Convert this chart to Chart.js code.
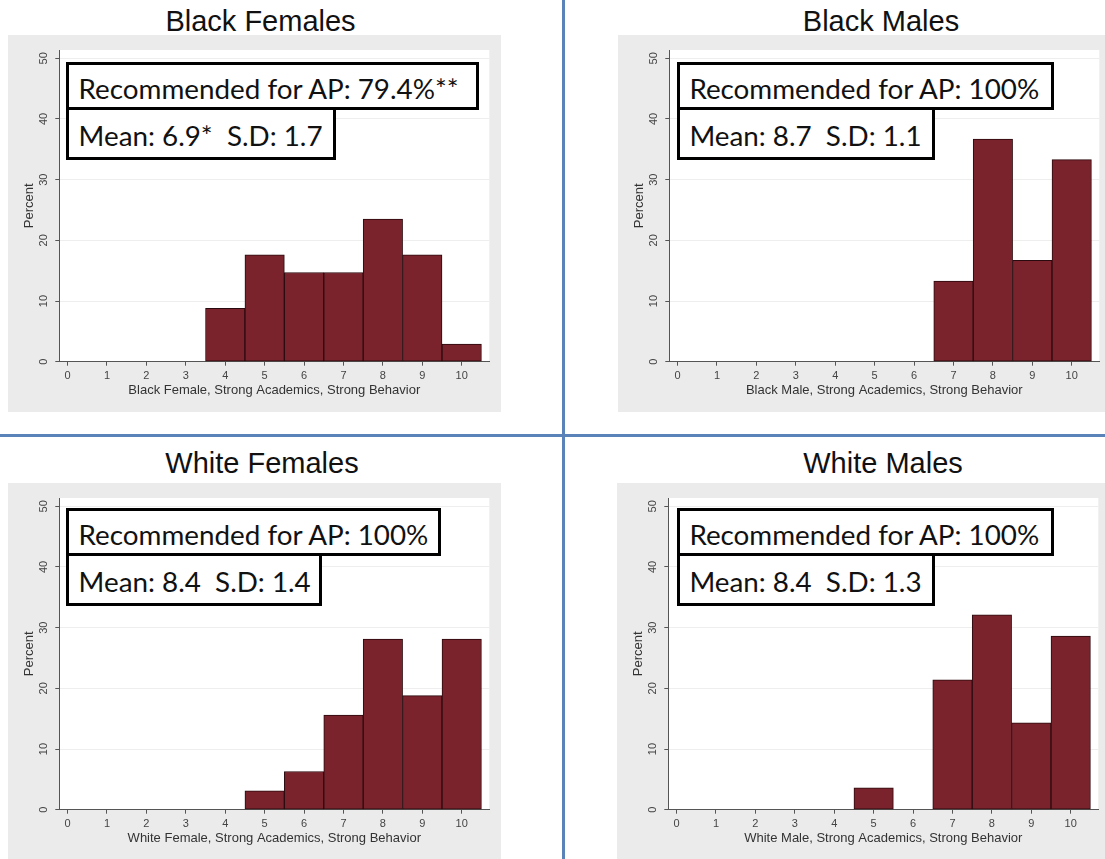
<!DOCTYPE html>
<html>
<head>
<meta charset="utf-8">
<script src="https://cdn.jsdelivr.net/npm/chart.js@4"></script>
<style>
html,body{margin:0;padding:0;background:#fff;width:1105px;height:859px;overflow:hidden;position:relative;font-family:"Liberation Sans",Arial,sans-serif}
.vline{position:absolute;left:562px;top:0;width:3px;height:859px;background:#5a83ba}
.hline{position:absolute;left:0;top:434px;width:1105px;height:3px;background:#5a83ba}
.title{position:absolute;font-size:29px;color:#111;text-align:center;width:400px;line-height:1;white-space:nowrap}
.panel{position:absolute;background:#ebebeb;height:377px;overflow:hidden}
.panel canvas{position:absolute;left:0;top:0}
.box{position:absolute;border:3px solid #000;background:#fff;box-sizing:border-box;font-family:Lato,"Open Sans",sans-serif;font-size:27.8px;line-height:33.36px;color:#111;padding-left:9.6px;white-space:nowrap;overflow:hidden}
.b1{height:48px;padding-top:6.6px}
.b2{height:53px;padding-top:9.3px}
</style>
</head>
<body>
<div class="vline"></div>
<div class="hline"></div>
<div id="root"></div>
<script>
// ---- data ----
const bins = [0, 1, 2, 3, 4, 5, 6, 7, 8, 9, 10];
const xTickValues = [0, 1, 2, 3, 4, 5, 6, 7, 8, 9, 10];
const yTickValues = [0, 10, 20, 30, 40, 50];
const panelTitles = ["Black Females", "Black Males", "White Females", "White Males"];
const xAxisTitles = [
  "Black Female, Strong Academics, Strong Behavior",
  "Black Male, Strong Academics, Strong Behavior",
  "White Female, Strong Academics, Strong Behavior",
  "White Male, Strong Academics, Strong Behavior"
];
const recommendedText = ["Recommended for AP: 79.4%**", "Recommended for AP: 100%", "Recommended for AP: 100%", "Recommended for AP: 100%"];
const statsText = ["Mean: 6.9*\u00a0 S.D: 1.7", "Mean: 8.7\u00a0 S.D: 1.1", "Mean: 8.4\u00a0 S.D: 1.4", "Mean: 8.4\u00a0 S.D: 1.3"];
const blackFemale = [0, 0, 0, 0, 8.8, 17.6, 14.7, 14.7, 23.5, 17.6, 2.9];
const blackMale   = [0, 0, 0, 0, 0, 0, 0, 13.3, 36.7, 16.7, 33.3];
const whiteFemale = [0, 0, 0, 0, 0, 3.1, 6.3, 15.6, 28.1, 18.8, 28.1];
const whiteMale   = [0, 0, 0, 0, 0, 3.6, 0, 21.4, 32.1, 14.3, 28.6];
const seriesList = [blackFemale, blackMale, whiteFemale, whiteMale];

// ---- layout (positions only) ----
const layout = [
  {title:{cx:260.5, top:7.2}, panel:{left:8, top:35, width:493}, b1:{left:66, top:62, width:412.6}, b2:{left:66, top:107, width:270}},
  {title:{cx:881, top:7.2}, panel:{left:618, top:35, width:491}, b1:{left:676.8, top:62, width:377.2}, b2:{left:676.8, top:107, width:257.8}},
  {title:{cx:262, top:449}, panel:{left:8, top:483, width:493}, b1:{left:66, top:508, width:375}, b2:{left:66, top:553, width:256}},
  {title:{cx:883, top:449}, panel:{left:617, top:483, width:491}, b1:{left:676.8, top:508, width:377.2}, b2:{left:676.8, top:553, width:257.8}}
];

const barFill = '#7a232c';
const barEdge = '#2a0a0e';
const axisColor = '#555555';
const tickFont = {family: '"Liberation Sans", Arial, sans-serif', size: 11};
const titleFont = {family: '"Liberation Sans", Arial, sans-serif', size: 13};

const plotBg = {
  id: 'plotBg',
  beforeDraw(c) {
    const a = c.chartArea, ctx = c.ctx;
    ctx.save();
    ctx.fillStyle = '#ffffff';
    ctx.fillRect(a.left, a.top, a.right - a.left, a.bottom - a.top);
    ctx.restore();
  }
};

const root = document.getElementById('root');
layout.forEach((L, i) => {
  const t = document.createElement('div');
  t.className = 'title';
  t.style.left = (L.title.cx - 200) + 'px';
  t.style.top = L.title.top + 'px';
  t.textContent = panelTitles[i];
  root.appendChild(t);

  const p = document.createElement('div');
  p.className = 'panel';
  p.style.left = L.panel.left + 'px';
  p.style.top = L.panel.top + 'px';
  p.style.width = L.panel.width + 'px';
  const cv = document.createElement('canvas');
  cv.width = L.panel.width; cv.height = 377;
  cv.style.width = L.panel.width + 'px'; cv.style.height = '377px';
  p.appendChild(cv);
  root.appendChild(p);

  const values = seriesList[i];
  new Chart(cv, {
    type: 'bar',
    data: {
      datasets: [{
        data: bins.map((b, k) => ({x: b, y: values[k]})),
        backgroundColor: barFill,
        borderColor: barEdge,
        borderWidth: 1,
        borderSkipped: false,
        categoryPercentage: 1,
        barPercentage: 1
      }]
    },
    options: {
      responsive: false,
      animation: false,
      devicePixelRatio: 1,
      layout: {padding: {top: 15, right: L.panel.width - 51.3 - 430, left: 0, bottom: 0}},
      plugins: {legend: {display: false}, tooltip: {enabled: false}},
      scales: {
        x: {
          type: 'linear',
          offset: false,
          min: -0.21,
          max: 10.7,
          afterBuildTicks: s => { s.ticks = xTickValues.map(v => ({value: v})); },
          afterFit: s => { s.height = 50.3; },
          grid: {offset: false, drawOnChartArea: false, tickLength: 4, tickColor: axisColor},
          border: {color: axisColor, width: 1},
          ticks: {font: tickFont, color: '#444', padding: 4, maxRotation: 0, autoSkip: false},
          title: {display: true, text: xAxisTitles[i], font: titleFont, color: '#333', padding: {top: 0, bottom: 14}}
        },
        y: {
          min: 0,
          max: 51.37,
          afterBuildTicks: s => { s.ticks = yTickValues.map(v => ({value: v})); },
          afterFit: s => { s.width = 51.3; },
          grid: {color: '#eeeeee', tickColor: axisColor, tickLength: 4},
          border: {color: axisColor, width: 1},
          ticks: {font: tickFont, color: '#444', padding: 5, minRotation: 90, maxRotation: 90, crossAlign: 'center', autoSkip: false},
          title: {display: true, text: 'Percent', font: titleFont, color: '#333', padding: {top: 14, bottom: 0}}
        }
      }
    },
    plugins: [plotBg]
  });

  const b1 = document.createElement('div');
  b1.className = 'box b1';
  b1.style.left = L.b1.left + 'px';
  b1.style.top = L.b1.top + 'px';
  b1.style.width = L.b1.width + 'px';
  b1.textContent = recommendedText[i];
  root.appendChild(b1);

  const b2 = document.createElement('div');
  b2.className = 'box b2';
  b2.style.left = L.b2.left + 'px';
  b2.style.top = L.b2.top + 'px';
  b2.style.width = L.b2.width + 'px';
  b2.textContent = statsText[i];
  root.appendChild(b2);
});
</script>
</body>
</html>
